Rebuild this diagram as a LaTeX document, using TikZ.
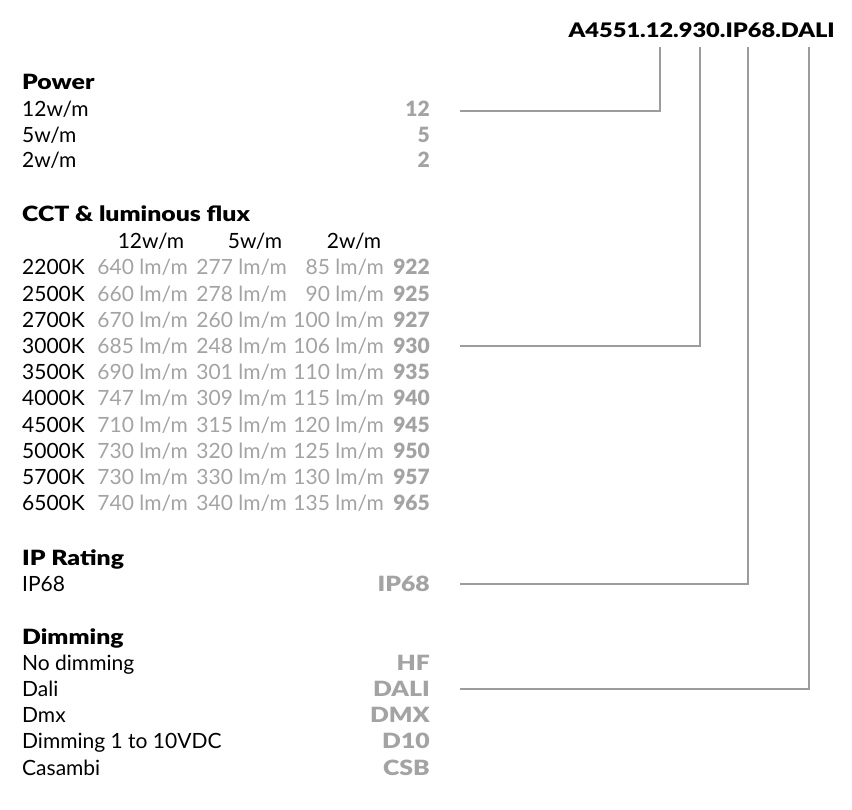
\documentclass[tikz,border=0pt]{standalone}
\usepackage{fontspec}
\setmainfont{Lato}[BoldFont={Lato Black},BoldFeatures={FakeStretch=1.18}]
\newfontfamily\numfont{Lato Black}
\definecolor{codegray}{HTML}{A3A3A3}
\definecolor{linegray}{HTML}{9C9C9C}
\begin{document}
\begin{tikzpicture}[x=1pt,y=-1pt,
  txt/.style={inner sep=0pt,anchor=base west,font=\fontsize{21}{24}\selectfont,text=black},
  head/.style={txt,font=\fontsize{21}{24}\selectfont\bfseries},
  code/.style={inner sep=0pt,anchor=base east,font=\fontsize{21}{24}\selectfont\bfseries,text=codegray},
  numcode/.style={inner sep=0pt,anchor=base east,font=\fontsize{21}{24}\selectfont\numfont,text=codegray},
  val/.style={inner sep=0pt,anchor=base east,font=\fontsize{21}{24}\selectfont,text=codegray},
  colh/.style={inner sep=0pt,anchor=base,font=\fontsize{21}{24}\selectfont,text=black},
  conn/.style={draw=linegray,line width=1.3pt}]
\useasboundingbox (0,0) rectangle (852,810);

\node[inner sep=0pt,anchor=base east,font=\fontsize{20}{24}\selectfont\bfseries] (title) at (835,38) {A4551.12.930.IP68.DALI};

% Power
\node[head] (hpow) at (22,90) {Power};
\node[txt] (l12) at (22,117) {12w/m};
\node[txt] (l5) at (22,143) {5w/m};
\node[txt] (l2) at (22,168) {2w/m};
\node[numcode] (c12) at (430,117) {12};
\node[numcode] (c5) at (430,143) {5};
\node[numcode] (c2) at (430,168) {2};

% CCT
\node[head] (hcct) at (22,222) {CCT \& luminous flux};
\node[colh] (h12) at (151,249) {12w/m};
\node[colh] (h5) at (255,249) {5w/m};
\node[colh] (h2) at (354,249) {2w/m};

\foreach \k/\a/\b/\c/\code [count=\i from 0] in {
  2200K/640/277/85/922,
  2500K/660/278/90/925,
  2700K/670/260/100/927,
  3000K/685/248/106/930,
  3500K/690/301/110/935,
  4000K/747/309/115/940,
  4500K/710/315/120/945,
  5000K/730/320/125/950,
  5700K/730/330/130/957,
  6500K/740/340/135/965}{
  \pgfmathsetmacro{\yy}{275+26.2*\i}
  \node[txt] (k\code) at (22,\yy) {\k};
  \node[val] (a\code) at (188,\yy) {\a\ lm/m};
  \node[val] (b\code) at (287,\yy) {\b\ lm/m};
  \node[val] (v\code) at (384,\yy) {\c\ lm/m};
  \node[numcode] (c\code) at (430,\yy) {\code};
}

% IP
\node[head] (hip) at (22,565) {IP Rating};
\node[txt] (lip) at (22,591) {IP68};
\node[code] (cip) at (430,591) {IP68};

% Dimming
\node[head] (hdim) at (22,644) {Dimming};
\node[txt] (lhf) at (22,670) {No dimming};
\node[txt] (ldali) at (22,696) {Dali};
\node[txt] (ldmx) at (22,722) {Dmx};
\node[txt] (ld10) at (22,748) {Dimming 1 to 10VDC};
\node[txt] (lcsb) at (22,775) {Casambi};
\node[code] (chf) at (430,670) {HF};
\node[code] (cdali) at (430,696) {DALI};
\node[code] (cdmx) at (430,722) {DMX};
\node[code] (cd10) at (430,748) {D10};
\node[code] (ccsb) at (430,775) {CSB};

% connector anchors
\coordinate (t1) at (660,47);
\coordinate (t2) at (700,47);
\coordinate (t3) at (748,47);
\coordinate (t4) at (809,47);
\coordinate (e1) at (460,111);
\coordinate (e2) at (460,346);
\coordinate (e3) at (460,584);
\coordinate (e4) at (460,689);

\draw[conn] (t1) |- (e1);
\draw[conn] (t2) |- (e2);
\draw[conn] (t3) |- (e3);
\draw[conn] (t4) |- (e4);
\end{tikzpicture}
\end{document}
